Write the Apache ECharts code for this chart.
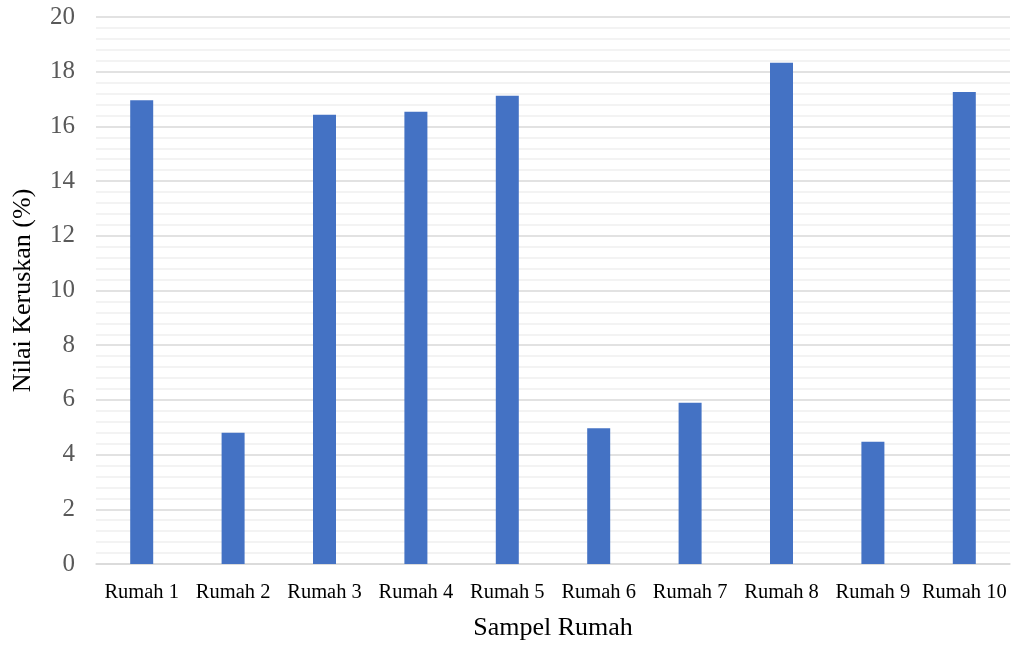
<!DOCTYPE html>
<html>
<head>
<meta charset="utf-8">
<script src="https://cdn.jsdelivr.net/npm/echarts@6/dist/echarts.min.js"></script>
<style>
  html, body { margin: 0; padding: 0; background: #ffffff; }
  #chart { width: 1017px; height: 646px; }
</style>
</head>
<body>
<div id="chart"></div>
<script>
// Damage value per sampled house
const categories = ['Rumah 1', 'Rumah 2', 'Rumah 3', 'Rumah 4', 'Rumah 5', 'Rumah 6', 'Rumah 7', 'Rumah 8', 'Rumah 9', 'Rumah 10'];
const nilaiKeruskan = [16.96, 4.80, 16.43, 16.54, 17.12, 4.96, 5.90, 18.33, 4.47, 17.26];
const yTicks = { min: 0, max: 20, interval: 2 };

const serif = '"Liberation Serif", "Times New Roman", serif';

const chart = echarts.init(document.getElementById('chart'), null, { renderer: 'canvas' });
chart.setOption({
  animation: false,
  backgroundColor: '#ffffff',
  textStyle: { fontFamily: serif },
  grid: { left: 96, right: 7, top: 17, bottom: 81 },
  xAxis: {
    type: 'category',
    data: categories,
    name: 'Sampel Rumah',
    nameLocation: 'middle',
    nameGap: 51,
    nameTextStyle: { fontSize: 26, color: '#000000', fontFamily: serif },
    axisLine: { show: true, lineStyle: { color: '#d9d9d9', width: 1.5 } },
    axisTick: { show: false },
    axisLabel: { fontSize: 20.5, color: '#000000', margin: 18, interval: 0, fontFamily: serif }
  },
  yAxis: {
    type: 'value',
    min: yTicks.min,
    max: yTicks.max,
    interval: yTicks.interval,
    name: 'Nilai Keruskan (%)',
    nameLocation: 'middle',
    nameGap: 60,
    nameTextStyle: { fontSize: 26, color: '#000000', fontFamily: serif },
    axisLine: { show: false },
    axisTick: { show: false },
    axisLabel: { fontSize: 25, color: '#595959', margin: 21, fontFamily: serif },
    splitLine: { show: true, lineStyle: { color: '#d9d9d9', width: 1.5 } },
    minorTick: { show: false, splitNumber: 5 },
    minorSplitLine: { show: true, lineStyle: { color: '#f0f0f0', width: 1.5 } }
  },
  series: [{
    type: 'bar',
    data: nilaiKeruskan,
    barWidth: 23,
    itemStyle: { color: '#4472c4' }
  }]
});
</script>
</body>
</html>
